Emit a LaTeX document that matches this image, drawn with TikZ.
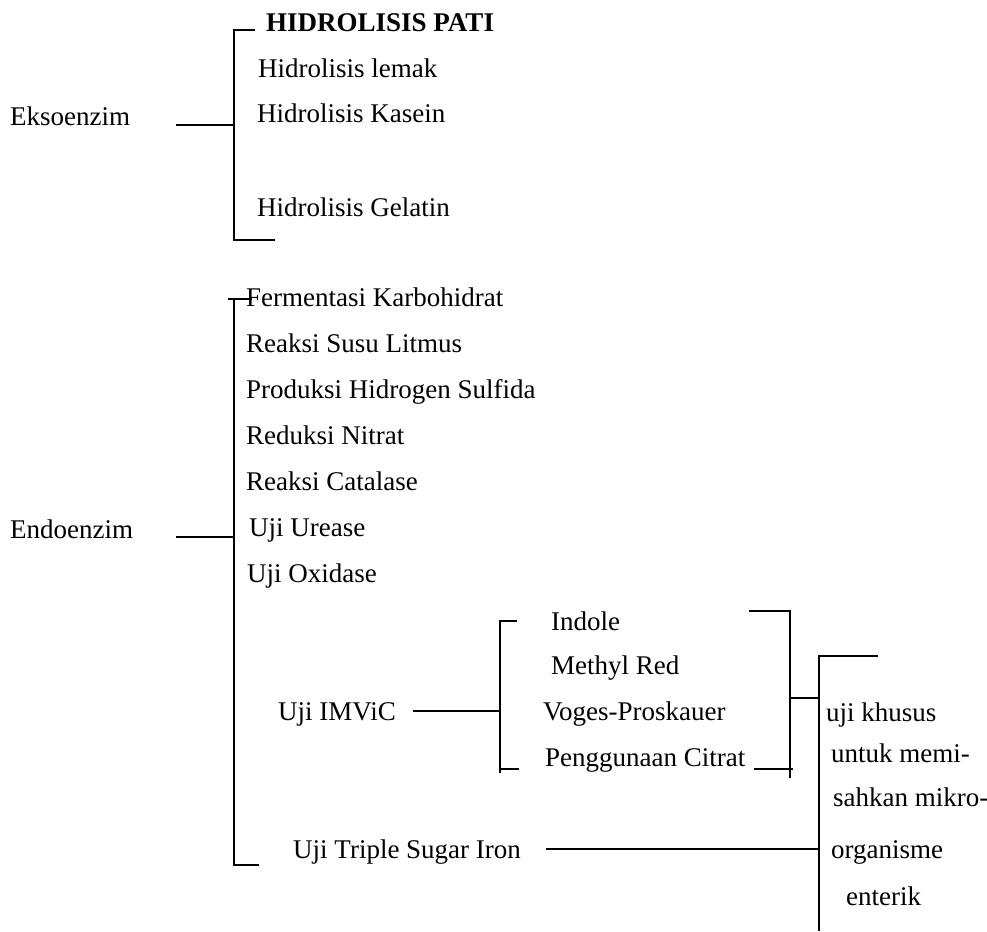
\documentclass[tikz,border=0pt]{standalone}
\usepackage{fontspec}
\setmainfont{Liberation Serif}
\begin{document}
\begin{tikzpicture}[x=1pt,y=-1pt,
  lbl/.style={anchor=base west,inner sep=0pt,font=\fontsize{27}{32}\selectfont},
  brk/.style={line width=1.7pt},
  con/.style={line width=1.2pt}]
\useasboundingbox (0,0) rectangle (987,931);
% ---------- Eksoenzim ----------
\node[lbl] (ekso) at (10,125) {Eksoenzim};
\node[lbl,font=\fontsize{27}{32}\selectfont\bfseries] (pati) at (266,32) {HIDROLISIS PATI};
\node[lbl] (lemak) at (258,78) {Hidrolisis lemak};
\node[lbl] (kasein) at (257,123) {Hidrolisis Kasein};
\node[lbl] (gelatin) at (257,216) {Hidrolisis Gelatin};
\coordinate (e1) at (234,30);
\coordinate (e2) at (234,240);
\coordinate (em) at (234,125);
\coordinate (ein) at (176,125);
\draw[brk] (255,30) -- (e1) -- (e2) -- (275,240);
\draw[brk] (ein) -- (em);
% ---------- Endoenzim ----------
\node[lbl] (endo) at (10,538) {Endoenzim};
\node[lbl] (ferm) at (246,306) {Fermentasi Karbohidrat};
\node[lbl] (susu) at (246,352) {Reaksi Susu Litmus};
\node[lbl] (h2s) at (246,398) {Produksi Hidrogen Sulfida};
\node[lbl] (nitrat) at (246,444) {Reduksi Nitrat};
\node[lbl] (catal) at (246,490) {Reaksi Catalase};
\node[lbl] (urease) at (249,536) {Uji Urease};
\node[lbl] (oxid) at (247,582) {Uji Oxidase};
\node[lbl] (imvic) at (278,720) {Uji IMViC};
\node[lbl] (tsi) at (293,858) {Uji Triple Sugar Iron};
\coordinate (n1) at (234,299);
\coordinate (n2) at (234,865);
\coordinate (nm) at (234,537);
\coordinate (nin) at (176,537);
\draw[brk] (228,299) -- (252,299);
\draw[brk] (n1) -- (n2) -- (259,865);
\draw[brk] (nin) -- (nm);
% ---------- IMViC ----------
\node[lbl] (indole) at (551,630) {Indole};
\node[lbl] (mr) at (551,674) {Methyl Red};
\node[lbl] (vp) at (543,720) {Voges-Proskauer};
\node[lbl] (citrat) at (545,766) {Penggunaan Citrat};
\coordinate (i1) at (500,621);
\coordinate (i2) at (500,773);
\coordinate (im) at (500,711);
\coordinate (iin) at (413,711);
\draw[brk] (517,621) -- (i1) -- (i2);
\draw[brk] (i2 |- 0,769) -- (519,769);
\draw[con] (iin) -- (im);
% ---------- right brackets ----------
\coordinate (r1) at (790,610);
\coordinate (r2) at (790,778);
\coordinate (rm) at (790,698);
\coordinate (s1) at (819,656);
\coordinate (s2) at (819,931);
\coordinate (sm) at (819,698);
\coordinate (st) at (819,849);
\coordinate (tsiend) at (546,849);
\draw[brk] (749,611) -- (790,611);
\draw[brk] (r1) -- (r2);
\draw[brk] (754,769) -- (793,769);
\draw[brk] (rm) -- (sm);
\draw[brk] (878,656) -- (s1) -- (s2);
\draw[con] (tsiend) -- (st);
\node[lbl] (k1) at (826,721) {uji khusus};
\node[lbl] (k2) at (831,762) {untuk memi-};
\node[lbl] (k3) at (833,806) {sahkan mikro-};
\node[lbl] (k4) at (831,858) {organisme};
\node[lbl] (k5) at (846,905) {enterik};
\end{tikzpicture}
\end{document}
